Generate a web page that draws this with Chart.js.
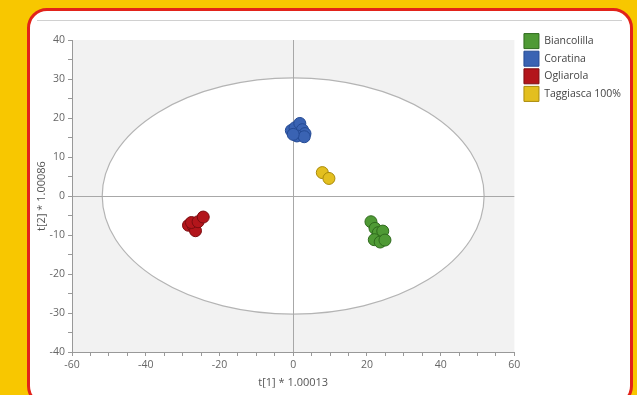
<!DOCTYPE html>
<html>
<head>
<meta charset="utf-8">
<script src="https://cdn.jsdelivr.net/npm/chart.js@4.4.0/dist/chart.umd.min.js"></script>
<style>
  html, body { margin: 0; padding: 0; width: 637px; height: 395px; overflow: hidden; background: #f8c700; }
  .card { position: absolute; left: 27px; top: 8px; width: 600px; height: 392px; background: #fff; border: 3px solid #e2231a; border-radius: 20px; }
  .rule { position: absolute; left: 37px; top: 20px; width: 585px; height: 1px; background: #d0d0d0; }
  #scoreChart { position: absolute; left: 0; top: 0; }
</style>
</head>
<body>
<div class="card"></div>
<div class="rule"></div>
<canvas id="scoreChart" width="637" height="395"></canvas>
<script>
// score values
const cultivars = ['Biancolilla', 'Coratina', 'Ogliarola', 'Taggiasca 100%'];

const biancolillaT1 = [21.1, 22.2, 23.1, 24.3, 22.0, 23.6, 24.9];
const biancolillaT2 = [-6.6, -8.3, -9.4, -9.0, -11.2, -11.8, -11.3];

const coratinaT1 = [-0.5, 0.5, 1.8, 2.5, 3.2, 1.0, 3.0, 0.0];
const coratinaT2 = [16.8, 17.5, 18.6, 17.0, 16.0, 15.4, 15.2, 15.8];

const ogliarolaT1 = [-28.4, -27.1, -26.5, -27.6, -25.8, -24.4];
const ogliarolaT2 = [-7.5, -7.7, -8.9, -6.8, -6.6, -5.4];

const taggiascaT1 = [7.9, 9.7];
const taggiascaT2 = [6.0, 4.5];

// Hotelling T2 ellipse half axes
const ellipseT1 = 51.8;
const ellipseT2 = 30.3;

const xLimits = [-60, 60];
const yLimits = [-40, 40];

const colors = {
  'Biancolilla': ['#4f9a35', '#2f6b1d'],
  'Coratina': ['#3a63b3', '#244a94'],
  'Ogliarola': ['#b3151b', '#7d0c10'],
  'Taggiasca 100%': ['#e3bf1f', '#a98a0a']
};

function toPoints(xs, ys) {
  return xs.map((x, i) => ({ x: x, y: ys[i] }));
}

const series = [
  toPoints(biancolillaT1, biancolillaT2),
  toPoints(coratinaT1, coratinaT2),
  toPoints(ogliarolaT1, ogliarolaT2),
  toPoints(taggiascaT1, taggiascaT2)
];

// grey plot background with the white ellipse, under the axes
const ellipsePlugin = {
  id: 'ellipse',
  afterLayout(chart) {
    chart.legend.left += 7;
    chart.legend.right += 7;
    chart.legend.top -= 9;
    chart.legend.bottom -= 9;
  },
  beforeDraw(chart) {
    const { ctx, chartArea, scales } = chart;
    ctx.save();
    ctx.fillStyle = '#f2f2f2';
    ctx.fillRect(chartArea.left, chartArea.top, chartArea.right - chartArea.left, chartArea.bottom - chartArea.top);
    const cx = scales.x.getPixelForValue(0);
    const cy = scales.y.getPixelForValue(0);
    const rx = scales.x.getPixelForValue(ellipseT1) - cx;
    const ry = cy - scales.y.getPixelForValue(ellipseT2);
    ctx.beginPath();
    ctx.ellipse(cx, cy, rx, ry, 0, 0, Math.PI * 2);
    ctx.fillStyle = '#ffffff';
    ctx.fill();
    ctx.strokeStyle = '#b4b4b4';
    ctx.lineWidth = 1.2;
    ctx.stroke();
    ctx.restore();
  }
};

const tickFont = { family: 'Open Sans', size: 10.5 };
const titleFont = { family: 'Open Sans', size: 11 };

new Chart(document.getElementById('scoreChart'), {
  type: 'scatter',
  data: {
    datasets: cultivars.map((name, i) => ({
      label: name,
      data: series[i],
      backgroundColor: colors[name][0],
      borderColor: colors[name][1],
      borderWidth: 1,
      pointRadius: 6
    }))
  },
  options: {
    responsive: false,
    animation: false,
    layout: { padding: { top: 40, left: 30, bottom: 6, right: 13 } },
    plugins: {
      legend: {
        position: 'right',
        align: 'start',
        labels: {
          boxWidth: 15,
          boxHeight: 15,
          padding: 2.6,
          color: '#444',
          font: { family: 'Open Sans', size: 10.5 }
        }
      },
      tooltip: { enabled: false }
    },
    scales: {
      x: {
        type: 'linear',
        min: xLimits[0],
        max: xLimits[1],
        afterFit: s => { s.height = 37; },
        ticks: {
          stepSize: 5,
          autoSkip: false,
          maxRotation: 0,
          padding: 3,
          color: '#666',
          font: tickFont,
          callback: v => (v % 20 === 0 ? v : '')
        },
        grid: {
          color: c => (c.tick && c.tick.value === 0 ? '#a8a8a8' : 'transparent'),
          tickColor: '#999',
          tickLength: 4
        },
        border: { color: '#999' },
        title: {
          display: true,
          text: 't[1] * 1.00013',
          color: '#555',
          font: titleFont,
          padding: { top: 2, bottom: 0 }
        }
      },
      y: {
        type: 'linear',
        min: yLimits[0],
        max: yLimits[1],
        afterFit: s => { s.width = 42; },
        ticks: {
          stepSize: 5,
          autoSkip: false,
          padding: 3,
          color: '#666',
          font: tickFont,
          callback: v => (v % 10 === 0 ? v : '')
        },
        grid: {
          color: c => (c.tick && c.tick.value === 0 ? '#a8a8a8' : 'transparent'),
          tickColor: '#999',
          tickLength: 4
        },
        border: { color: '#999' },
        title: {
          display: true,
          text: 't[2] * 1.00086',
          color: '#555',
          font: titleFont,
          padding: { top: 5, bottom: 0 }
        }
      }
    }
  },
  plugins: [ellipsePlugin]
});
</script>
</body>
</html>
